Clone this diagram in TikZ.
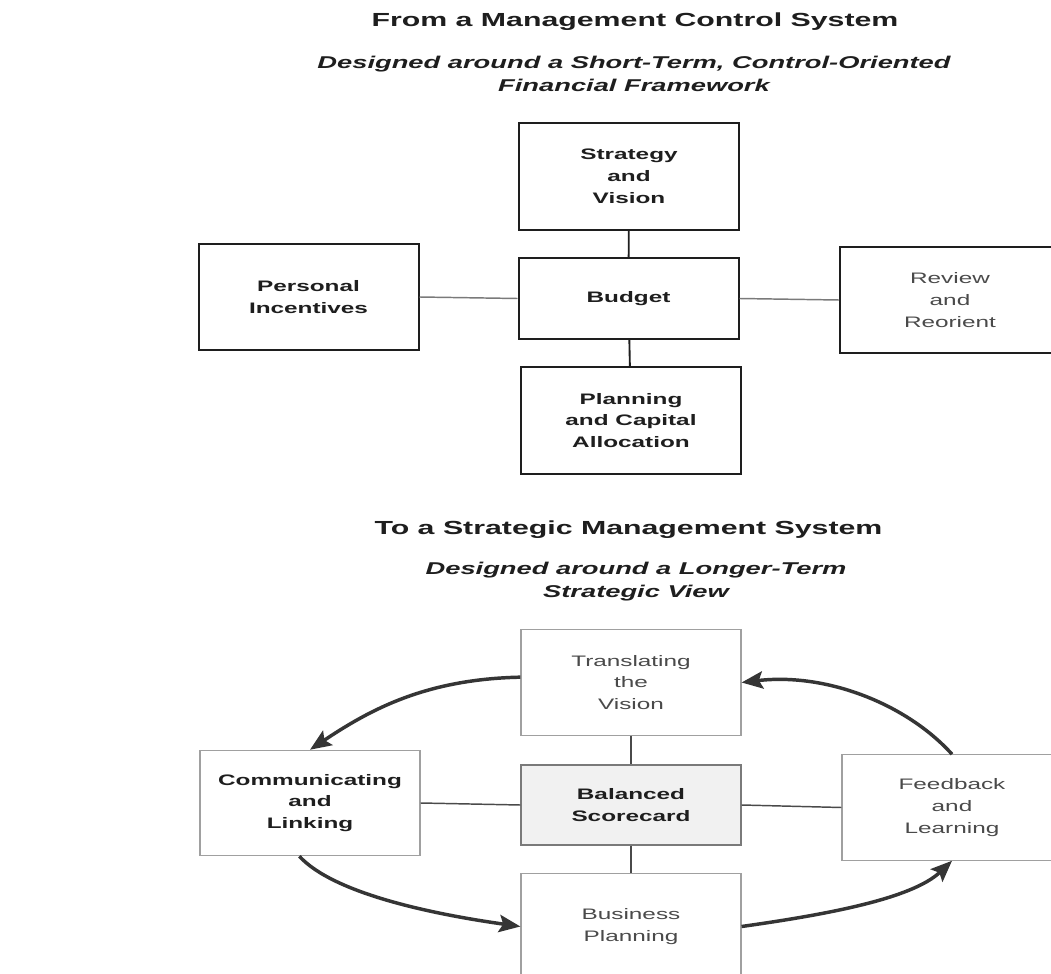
\documentclass[tikz,border=0pt]{standalone}
\usepackage{fontspec}
\setmainfont{Liberation Sans}[FakeStretch=1.6]
\usetikzlibrary{arrows.meta}
\definecolor{ink}{HTML}{1E1E1E}
\definecolor{softink}{HTML}{4A4A4A}
\definecolor{paleedge}{HTML}{A0A0A0}
\definecolor{midedge}{HTML}{7A7A7A}
\definecolor{scorefill}{HTML}{F1F1F1}
\begin{document}
\begin{tikzpicture}[x=0.75pt,y=-0.75pt,
  boxtext/.style={font=\fontsize{11.4pt}{16.4pt}\selectfont, align=center},
  heading/.style={font=\fontsize{14.2pt}{17pt}\selectfont\bfseries, text=ink},
  subheading/.style={font=\fontsize{12.8pt}{17.25pt}\selectfont\bfseries\itshape, text=ink, align=center},
  oldbox/.style={boxtext, draw=ink, line width=1.5pt, fill=white,
    minimum width=165pt, minimum height=80pt, inner sep=0pt},
  oldhub/.style={oldbox, minimum height=61pt},
  newbox/.style={boxtext, draw=paleedge, line width=0.9pt, fill=white,
    minimum width=165pt, minimum height=79pt, inner sep=0pt},
  newhub/.style={newbox, draw=midedge, fill=scorefill, minimum height=60pt},
  boldlabel/.style={text=ink, font=\fontsize{11.4pt}{16.4pt}\selectfont\bfseries},
  plainlabel/.style={text=softink},
  vlink/.style={draw=ink, line width=1.4pt},
  hlink/.style={draw=midedge, line width=1.1pt},
  cycle/.style={draw=ink!90, line width=2.6pt,
    -{Stealth[length=16pt,width=13pt,inset=3pt]}}
]
\clip (0,0) rectangle (1051,974);
\fill[white] (0,0) rectangle (1051,974);

% ---- upper diagram: management control system ----
\node[heading] (title1) at (635,22) {From a Management Control System};
\node[subheading] (sub1) at (634,73.5)
  {Designed around a Short-Term, Control-Oriented\\Financial Framework};

\node[oldbox, boldlabel] (strat) at (629,176.5) {Strategy\\and\\Vision};
\node[oldhub, boldlabel] (budget) at (628.5,298.5) {Budget};
\node[oldbox, boldlabel] (pers) at (308.5,297) {Personal\\Incentives};
\node[oldbox, plainlabel] (review) at (950,300) {Review\\and\\Reorient};
\node[oldbox, boldlabel] (plan) at (631,420.5) {Planning\\and Capital\\Allocation};

\draw[vlink] (strat) -- (budget);
\draw[vlink] (budget) -- (plan);
\draw[hlink] (pers.east) -- (budget.west);
\draw[hlink] (budget.east) -- (review.west);

% ---- lower diagram: strategic management system ----
\node[heading] (title2) at (628.5,530) {To a Strategic Management System};
\node[subheading] (sub2) at (636,582)
  {Designed around a Longer-Term\\Strategic View};

\node[newbox, plainlabel] (trans) at (631,682.5) {Translating\\the\\Vision};
\node[newhub, boldlabel] (bal) at (631,805) {Balanced\\Scorecard};
\node[newbox, boldlabel] (comm) at (310,803) {Communicating\\and\\Linking};
\node[newbox, plainlabel] (feed) at (952,807.5) {Feedback\\and\\Learning};
\node[newbox, plainlabel] (bus) at (631,926.5) {Business\\Planning};

\draw[vlink, draw=softink] (trans) -- (bal);
\draw[vlink, draw=softink] (bal) -- (bus);
\draw[hlink, draw=softink] (comm.east) -- (bal.west);
\draw[hlink, draw=softink] (bal.east) -- (feed.west);

% the four-step cycle around the scorecard
\draw[cycle] ([yshift=4pt]trans.west) .. controls +(-95,2) and +(60,-40) .. (comm.north);
\draw[cycle] ([xshift=-8pt]comm.south) .. controls +(35,38) and +(-85,-12) .. (bus.west);
\draw[cycle] (bus.east) .. controls +(85,-12) and +(-40,38) .. (feed.south);
\draw[cycle] (feed.north) .. controls +(-45,-50) and +(85,-10) .. (trans.east);
\end{tikzpicture}
\end{document}
